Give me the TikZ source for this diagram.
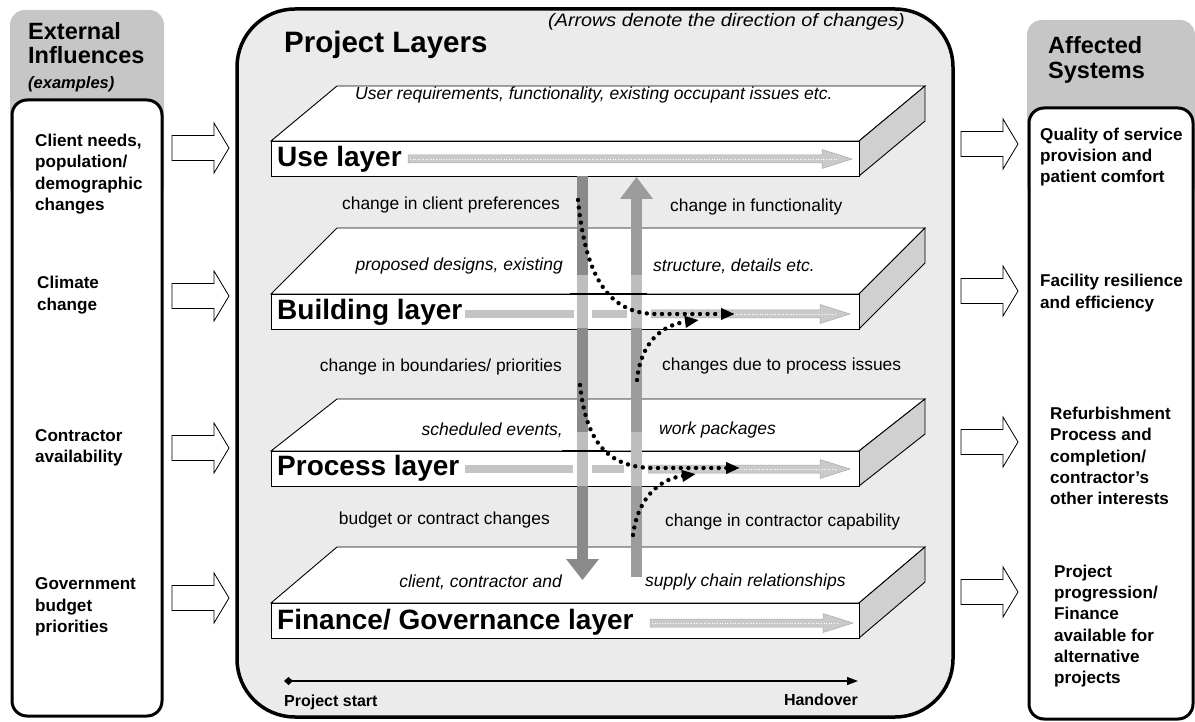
\documentclass[tikz,border=0pt]{standalone}
\usepackage{fontspec}
\setmainfont{Liberation Sans}
\newfontfamily\widesans[FakeStretch=1.1]{Liberation Sans}
\usetikzlibrary{arrows.meta}
\definecolor{hdrgray}{HTML}{C6C6C6}
\definecolor{bggray}{HTML}{EBEBEB}
\definecolor{sidegray}{HTML}{D0D0D0}
\definecolor{downgray}{HTML}{8A8A8A}
\definecolor{upgray}{HTML}{9C9C9C}
\definecolor{litgray}{HTML}{BEBEBE}
\definecolor{lyrgray}{HTML}{CACACA}
\definecolor{lyrline}{HTML}{A8A8A8}
\definecolor{bargray}{HTML}{C4C4C4}
\newcommand\mkslab[2]{%
  \filldraw[slabline, fill=white] (271,#1) -- (337,{#1-#2}) -- (925,{#1-#2}) -- (859,#1) -- cycle;
  \filldraw[slabline, fill=sidegray] (859,#1) -- (925,{#1-#2}) -- (925,{#1-#2+35}) -- (859,{#1+35}) -- cycle;
  \filldraw[slabline, fill=white] (271,#1) rectangle (859,{#1+35});
}
\newcommand\lyrarrow[3]{%
  \filldraw[fill=lyrgray, draw=lyrline, line width=0.5pt] (#1,{#3-4}) -- ({#2-30},{#3-4}) -- ({#2-30},{#3-9.5}) -- (#2,#3) -- ({#2-30},{#3+9.5}) -- ({#2-30},{#3+4}) -- (#1,{#3+4}) -- cycle;
  \draw[white, line width=0.8pt, dash pattern=on 1pt off 1.6pt] ({#1+2},#3) -- ({#2-14},#3);
}
\tikzset{
  slabline/.style={draw=black, line width=0.9pt, line join=miter},
  panel/.style={fill=white, draw=black, line width=3pt, rounded corners=15pt},
  hdrbox/.style={fill=hdrgray, rounded corners=15pt},
  bigbox/.style={fill=bggray, draw=black, line width=3.5pt, rounded corners=58pt},
  hdrtxt/.style={font=\fontsize{23.5}{26}\selectfont\bfseries, anchor=base west, inner sep=0pt},
  sidetxt/.style={font=\fontsize{17.1}{21.3}\selectfont\bfseries, align=left, anchor=west, inner sep=0pt},
  toptxt/.style={font=\fontsize{17.5}{20}\selectfont\itshape, inner sep=0pt},
  midtxt/.style={font=\fontsize{17.4}{20}\selectfont, inner sep=0pt},
  lyrname/.style={font=\fontsize{28}{30}\selectfont\bfseries, anchor=west, inner sep=0pt},
  dots/.style={line width=4.4pt, line cap=round, dash pattern=on 0pt off 7.6pt},
  blockarr/.pic={\filldraw[draw=black, fill=white, line width=0.8pt] (0,-12.5) -- (42,-12.5) -- (42,-25) -- (57,0) -- (42,25) -- (42,12.5) -- (0,12.5) -- cycle;},
}
\begin{document}
\begin{tikzpicture}[x=1pt, y=-1pt]
\useasboundingbox (0,0) rectangle (1195,722);
% side panels
\fill[hdrbox] (10,10) rectangle (164,200);
\draw[panel] (12,100) rectangle (162,716);
\fill[hdrbox] (1027,20) rectangle (1195,200);
\draw[panel] (1029,108) rectangle (1193,719);
% big box
\draw[bigbox] (237,9) rectangle (953,717);
% headers
\node[hdrtxt] (ext) at (28,40) {External};
\node[hdrtxt] (infl) at (28,64) {Influences};
\node[font=\fontsize{16.5}{19}\selectfont\bfseries\itshape, anchor=base west, inner sep=0pt] (exa) at (28,89) {(examples)};
\node[hdrtxt] (aff) at (1048,54) {Affected};
\node[hdrtxt] (sys) at (1048,79) {Systems};
\node[font=\fontsize{29.5}{32}\selectfont\bfseries, anchor=west, inner sep=0pt] (pl) at (284,45) {Project Layers};
\node[font=\widesans\fontsize{18}{20}\selectfont\itshape, anchor=west, inner sep=0pt] (note) at (548,21.5) {(Arrows denote the direction of changes)};
% side texts
\node[sidetxt] (l1) at (35,174) {Client needs,\\population/\\demographic\\changes};
\node[sidetxt] (l2) at (37,295) {Climate\\change};
\node[sidetxt] (l3) at (35,448) {Contractor\\availability};
\node[sidetxt] (l4) at (35,607) {Government\\budget\\priorities};
\node[sidetxt] (r1) at (1040,157) {Quality of service\\provision and\\patient comfort};
\node[sidetxt] (r2) at (1040,293) {Facility resilience\\and efficiency};
\node[sidetxt] (r3) at (1050,456) {Refurbishment\\Process and\\completion/\\contractor’s\\other interests};
\node[sidetxt] (r4) at (1054,626) {Project\\progression/\\Finance\\available for\\alternative\\projects};
% block arrows
\pic at (172,148) {blockarr};
\pic at (172,296) {blockarr};
\pic at (172,448) {blockarr};
\pic at (172,598) {blockarr};
\pic at (961,144) {blockarr};
\pic at (961,291) {blockarr};
\pic at (961,442) {blockarr};
\pic at (961,592) {blockarr};
% slabs
\mkslab{141}{55}
\mkslab{294}{66}
\mkslab{451}{52}
\mkslab{603}{56}
% layer arrows and bars
\lyrarrow{408}{852}{159}
\fill[bargray] (465,310) rectangle (574,318);
\fill[bargray] (592,310) rectangle (627,318);
\lyrarrow{651}{850}{314}
\fill[bargray] (465,465) rectangle (573,473);
\fill[bargray] (592,465) rectangle (624,473);
\lyrarrow{648}{850}{469}
\lyrarrow{650}{853}{623}
% layer names
\node[lyrname] (use) at (277,159) {Use layer};
\node[lyrname] (bld) at (277,312) {Building layer};
\node[lyrname] (prc) at (277,468) {Process layer};
\node[lyrname] (fin) at (277,622) {Finance/ Governance layer};
% top face texts
\node[toptxt, anchor=west] (t1) at (355,95) {User requirements, functionality, existing occupant issues etc.};
\node[toptxt, anchor=east] (t2a) at (563,266) {proposed designs, existing};
\node[toptxt, anchor=west] (t2b) at (653,266) {structure, details etc.};
\node[toptxt, anchor=east] (t3a) at (563,430) {scheduled events,};
\node[toptxt, anchor=west] (t3b) at (659,430) {work packages};
\node[toptxt, anchor=east] (t4a) at (562,582) {client, contractor and};
\node[toptxt, anchor=west] (t4b) at (645,582) {supply chain relationships};
% vertical arrows
\fill[downgray] (577,176) rectangle (588,275);
\fill[litgray] (577,275) rectangle (588,328);
\fill[downgray] (577,328) rectangle (588,432);
\fill[litgray] (577,432) rectangle (588,486);
\fill[downgray] (577,486) rectangle (588,560);
\fill[downgray] (566,559) -- (599,559) -- (582.5,580) -- cycle;
\fill[upgray] (620,199) -- (636.5,177) -- (653,199) -- cycle;
\fill[upgray] (631,198) rectangle (642,275);
\fill[litgray] (631,275) rectangle (642,328);
\fill[upgray] (631,328) rectangle (642,432);
\fill[litgray] (631,432) rectangle (642,486);
\fill[upgray] (631,486) rectangle (642,577);
\draw[line width=1.2pt] (570,294) -- (647,294);
\draw[line width=1.2pt] (562,451) -- (607,451);
% dotted change paths
\coordinate (a1s) at (578,200); \coordinate (a1e) at (735,314);
\coordinate (b1s) at (637,380); \coordinate (b1e) at (699,320);
\coordinate (a2s) at (580,385); \coordinate (a2e) at (740,468);
\coordinate (b2s) at (633,535); \coordinate (b2e) at (696,474);
\draw[dots, -{Triangle[length=14pt,width=11pt]}] (a1s) .. controls (585,268) and (603,313) .. (655,314) -- (a1e);
\draw[dots, -{Triangle[length=14pt,width=11pt]}] (b1s) .. controls (641,342) and (662,325) .. (b1e);
\draw[dots, -{Triangle[length=14pt,width=11pt]}] (a2s) .. controls (586,440) and (606,467) .. (652,468) -- (a2e);
\draw[dots, -{Triangle[length=14pt,width=11pt]}] (b2s) .. controls (638,497) and (660,479) .. (b2e);
% labels between layers
\node[midtxt, anchor=east] (m1) at (560,205) {change in client preferences};
\node[midtxt, anchor=west] (m2) at (670,207) {change in functionality};
\node[midtxt, anchor=east] (m3) at (562,367) {change in boundaries/ priorities};
\node[midtxt, anchor=west] (m4) at (662,366) {changes due to process issues};
\node[midtxt, anchor=east] (m5) at (550,520) {budget or contract changes};
\node[midtxt, anchor=west] (m6) at (665,522) {change in contractor capability};
% timeline
\coordinate (ts) at (284,681);
\coordinate (te) at (858,681);
\draw[line width=1.3pt, {Diamond[length=9pt,width=8pt]}-{Triangle[length=11pt,width=8pt]}] (ts) -- (te);
\node[font=\fontsize{16}{18}\selectfont\bfseries, anchor=west, inner sep=0pt] (ps) at (284,702) {Project start};
\node[font=\fontsize{16}{18}\selectfont\bfseries, anchor=east, inner sep=0pt] (ho) at (858,700) {Handover};
\end{tikzpicture}
\end{document}
